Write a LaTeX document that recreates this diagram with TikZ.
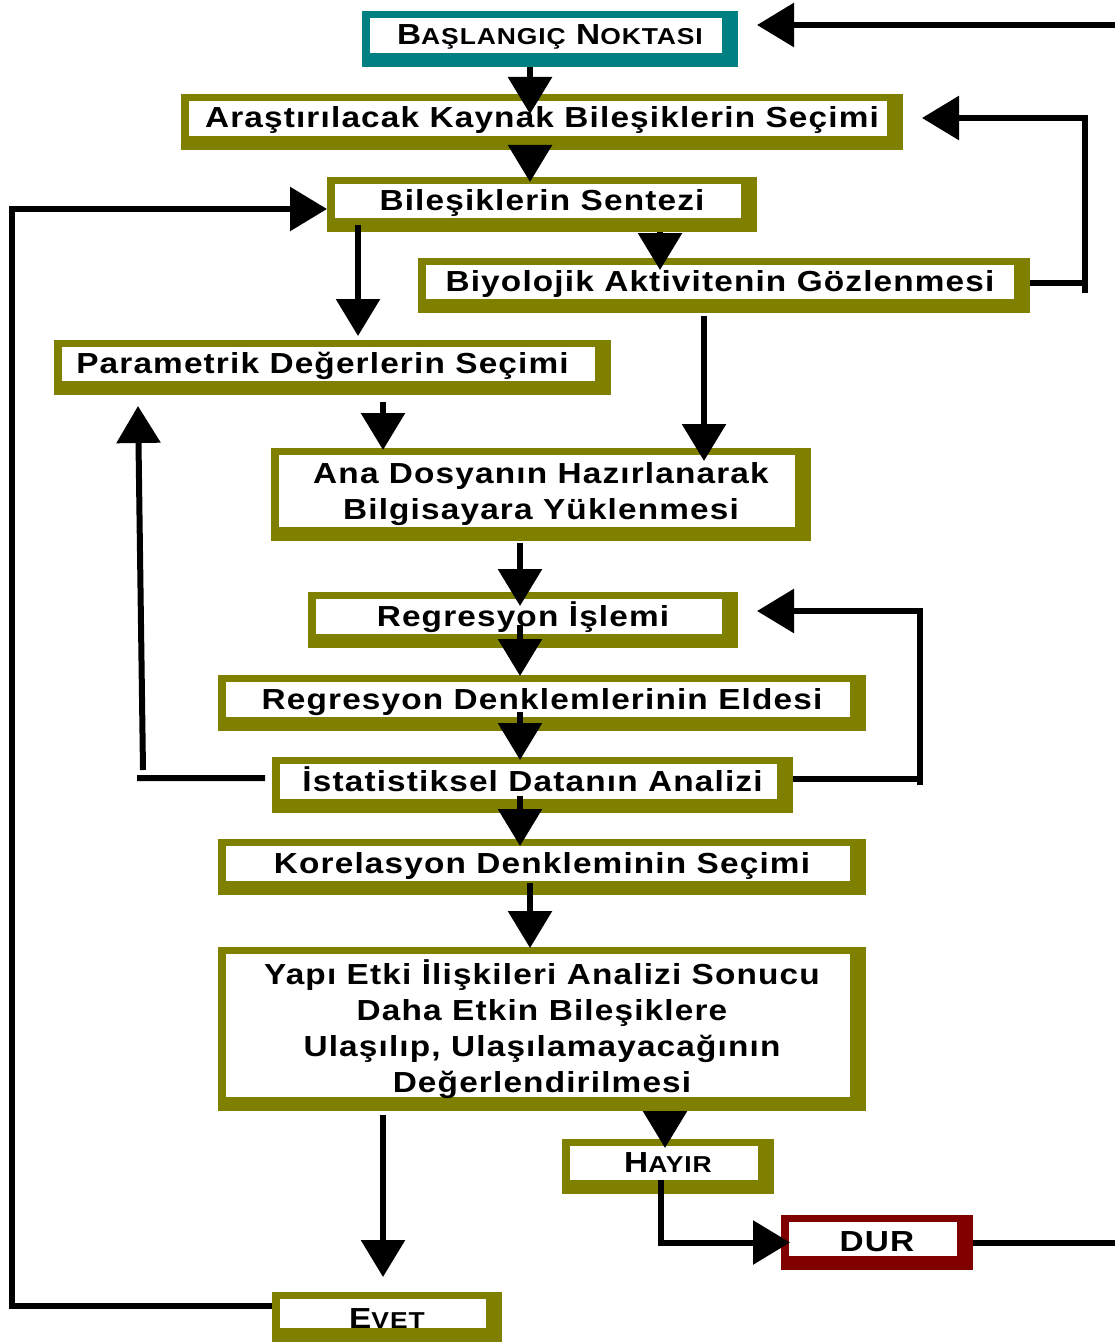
\documentclass[tikz,border=0pt]{standalone}
\usepackage{fontspec}
\setmainfont{Liberation Sans}[LetterSpace=4,FakeStretch=1.15]
\usetikzlibrary{arrows.meta,calc}
\definecolor{ol}{RGB}{128,128,0}
\definecolor{tl}{RGB}{0,128,128}
\definecolor{dr}{RGB}{128,0,0}
\newcommand\SCx[1]{{\fontsize{23}{23}\selectfont #1}}
\tikzset{
  box/.style={fill=ol, inner sep=0pt, outer sep=0pt, align=center,
    font=\bfseries\fontsize{29}{36}\selectfont,
    path picture={\fill[white] ([xshift=8pt,yshift=-7pt]path picture bounding box.north west) rectangle ([xshift=-16pt,yshift=14pt]path picture bounding box.south east);}},
  oneline/.style={box, text height=20pt, text depth=8pt},
  conn/.style={line width=6pt, -{Triangle[length=37pt,width=43pt]}},
  plainln/.style={line width=6pt},
}
\begin{document}
\begin{tikzpicture}[x=1pt,y=-1pt]
\useasboundingbox (0,0) rectangle (1115,1343);
\node[oneline, fill=tl, minimum width=376pt, minimum height=56pt] (start) at (550,39) {B\SCx{AŞLANGIÇ} N\SCx{OKTASI}};
\node[oneline, minimum width=722pt, minimum height=56pt] (arast) at (542,122) {Araştırılacak Kaynak Bileşiklerin Seçimi};
\node[oneline, minimum width=430pt, minimum height=55pt] (sentez) at (542,204.5) {Bileşiklerin Sentezi};
\node[oneline, minimum width=612pt, minimum height=55pt] (biyo) at (724,285.5) {Biyolojik Aktivitenin Gözlenmesi\hspace*{8pt}};
\node[oneline, minimum width=557pt, minimum height=55pt] (param) at (332.5,367.5) {Parametrik Değerlerin Seçimi\hspace*{20pt}};
\node[box, minimum width=540pt, minimum height=93pt] (ana) at (541,494.5) {Ana Dosyanın Hazırlanarak\\Bilgisayara Yüklenmesi};
\node[oneline, minimum width=430pt, minimum height=56pt] (regis) at (523,620) {Regresyon İşlemi};
\node[oneline, minimum width=648pt, minimum height=56pt] (regden) at (542,703) {Regresyon Denklemlerinin Eldesi};
\node[oneline, minimum width=521pt, minimum height=56pt] (istat) at (532.5,785) {İstatistiksel Datanın Analizi};
\node[oneline, minimum width=648pt, minimum height=56pt] (korel) at (542,867) {Korelasyon Denkleminin Seçimi};
\node[box, minimum width=648pt, minimum height=164pt] (yapi) at (542,1029) {Yapı Etki İlişkileri Analizi Sonucu\\Daha Etkin Bileşiklere\\Ulaşılıp, Ulaşılamayacağının\\Değerlendirilmesi};
\node[oneline, minimum width=212pt, minimum height=55pt] (hayir) at (668,1166.5) {H\SCx{AYIR}};
\node[oneline, fill=dr, minimum width=192pt, minimum height=55pt, text height=26pt] (dur) at (877,1242.5) {DUR};
\node[oneline, minimum width=230pt, minimum height=50pt, text height=30pt] (evet) at (387,1317) {E\SCx{VET}};
\coordinate (inT) at (1115,25);
\coordinate (outR) at (1115,1242.5);
% vertical flow
\draw[conn] ($(start.south)+(-20,0)$) -- ($(arast.north)+(-12,20)$);
\draw[conn] ($(arast.south)+(-12,-5)$) -- ($(sentez.north)+(-12,5)$);
\draw[conn] ($(sentez.south)+(118,0)$) -- ($(biyo.north)+(-64,12)$);
\draw[conn] ($(sentez.south)+(-184,-7)$) -- ($(param.north)+(25.5,-4)$);
\draw[conn] ($(param.south)+(50.5,7)$) -- ($(ana.north)+(-158,2)$);
\draw[conn] ($(biyo.south)+(-20,3)$) -- ($(ana.north)+(163,13)$);
\draw[conn] ($(ana.south)+(-21,2)$) -- ($(regis.north)+(-3,14)$);
\draw[conn] ($(regis.south)+(-3,-23)$) -- ($(regden.north)+(-22,1)$);
\draw[conn] ($(regden.south)+(-22,-19)$) -- ($(istat.north)+(-12.5,3)$);
\draw[conn] ($(istat.south)+(-12.5,-17)$) -- ($(korel.north)+(-22,7)$);
\draw[conn] ($(korel.south)+(-12,-12)$) -- ($(yapi.north)+(-12,1)$);
\draw[conn] ($(yapi.south)+(123,0)$) -- ($(hayir.north)+(-3,9)$);
\draw[conn] ($(hayir.south)+(-7,-14)$) |- ($(dur.west)+(9,0)$);
\draw[plainln] (dur.east) -- (outR);
\draw[conn] (inT) -- ($(start.east)+(19,-14)$);
\draw[conn] ($(yapi.south)+(-159,4)$) -- ($(evet.north)+(-4,-15)$);
% feedback loops
\draw[conn] ($(biyo.east)+(0,-2.5)$) -- ++(55,0) ++(0,10) -- ($(arast.east)+(182,-4)$) -- ($(arast.east)+(19,-4)$);
\draw[conn] ($(istat.east)+(0,-6)$) -- ++(127,0) ++(0,6) -- ($(regis.east)+(182,-9)$) -- ($(regis.east)+(19,-9)$);
\draw[conn] ($(istat.west)+(-7,-7)$) -- ++(-128,0) ($(istat.west)+(-129,-15)$) -- ($(param.south)+(-194.5,11)$);
\draw[conn] ($(evet.west)+(0,-11)$) -| ($(sentez.west)+(-315,4.5)$) -- ($(sentez.west)+(0,4.5)$);
\end{tikzpicture}
\end{document}
